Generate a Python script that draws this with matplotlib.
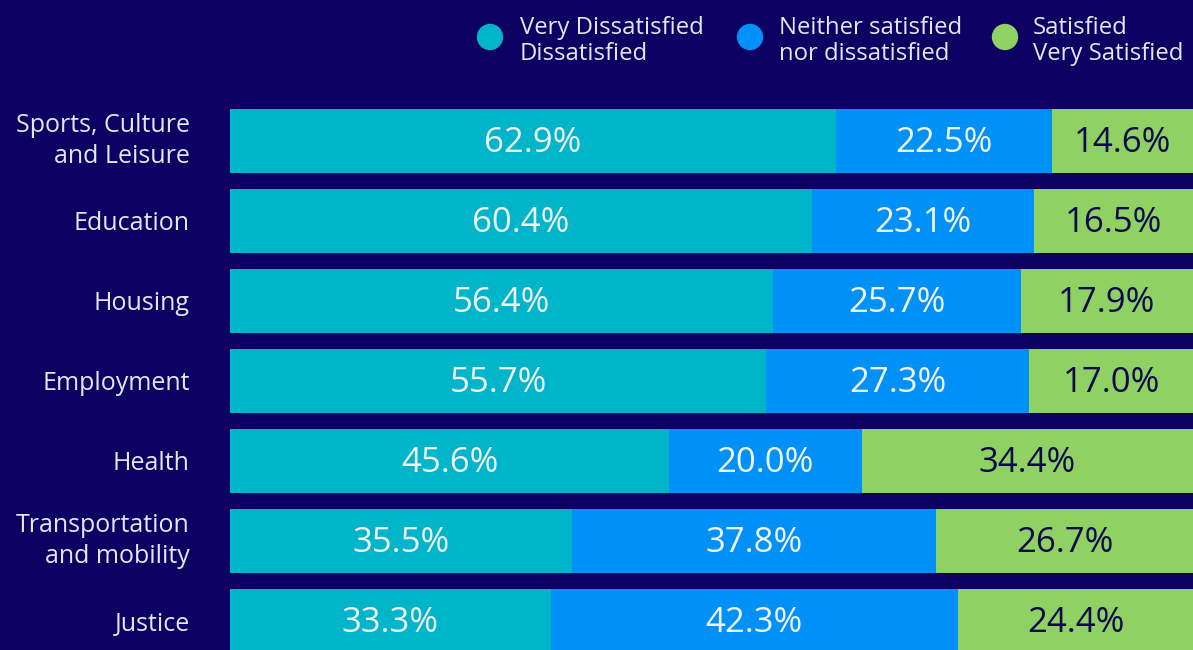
import matplotlib
matplotlib.use("Agg")
import matplotlib.pyplot as plt
import numpy as np

categories = ["Sports, Culture\nand Leisure", "Education", "Housing", "Employment",
              "Health", "Transportation\nand mobility", "Justice"]
dissatisfied = [62.9, 60.4, 56.4, 55.7, 45.6, 35.5, 33.3]
neutral = [22.5, 23.1, 25.7, 27.3, 20.0, 37.8, 42.3]
satisfied = [14.6, 16.5, 17.9, 17.0, 34.4, 26.7, 24.4]

series_labels = ["Very Dissatisfied\nDissatisfied",
                 "Neither satisfied\nnor dissatisfied",
                 "Satisfied\nVery Satisfied"]

BG = "#0c0062"
COLORS = ["#00b5c9", "#0091f8", "#8fd162"]
LABEL_COLORS = ["#eef3f8", "#eef3f8", "#0c0a4a"]
TEXT = "#e6e6ef"
FONT = "Open Sans"

W, H = 1193, 650
fig = plt.figure(figsize=(W / 100, H / 100), dpi=100, facecolor=BG)

# bar axes: x spans pixel 230..1193, y spans pixel 100..650 (80 px per row)
ax = fig.add_axes([230 / W, 0, 963 / W, 550 / H])
ax.set_facecolor(BG)
y = np.arange(len(categories))
left = np.zeros(len(categories))
for vals, col, tcol in zip([dissatisfied, neutral, satisfied], COLORS, LABEL_COLORS):
    vals = np.array(vals)
    bars = ax.barh(y, vals, left=left, height=0.8, color=col, edgecolor="none")
    for b, v in zip(bars, vals):
        ax.text(b.get_x() + b.get_width() / 2, b.get_y() + b.get_height() / 2 + 0.03,
                f"{v:.1f}%", ha="center", va="center", color=tcol,
                fontsize=25, family=FONT)
    left += vals

ax.set_xlim(0, 100)
ax.set_ylim((650 - 141) / 80, (100 - 141) / 80)
ax.set_yticks(y)
ax.set_yticklabels(categories, fontsize=18, color=TEXT, family=FONT,
                   ha="right", linespacing=1.3)
for lab in ax.get_yticklabels():
    if "\n" in lab.get_text():
        lab.set_va("center")
ax.tick_params(axis="y", length=0, pad=29)
ax.set_xticks([])
for s in ax.spines.values():
    s.set_visible(False)

# legend drawn on an overlay in pixel coordinates
lg = fig.add_axes([0, 0, 1, 1], facecolor="none")
lg.set_xlim(0, W)
lg.set_ylim(H, 0)
lg.axis("off")
marker_x = [490, 750, 1005]
text_x = [520, 779, 1033]
for mx, tx, col, lab in zip(marker_x, text_x, COLORS, series_labels):
    lg.scatter([mx], [37], s=360, color=col, edgecolors="none")
    lg.text(tx, 41, lab, ha="left", va="center", color=TEXT, fontsize=17.2,
            family=FONT, linespacing=1.15)

fig.savefig("out.png", dpi=100, facecolor=BG)
